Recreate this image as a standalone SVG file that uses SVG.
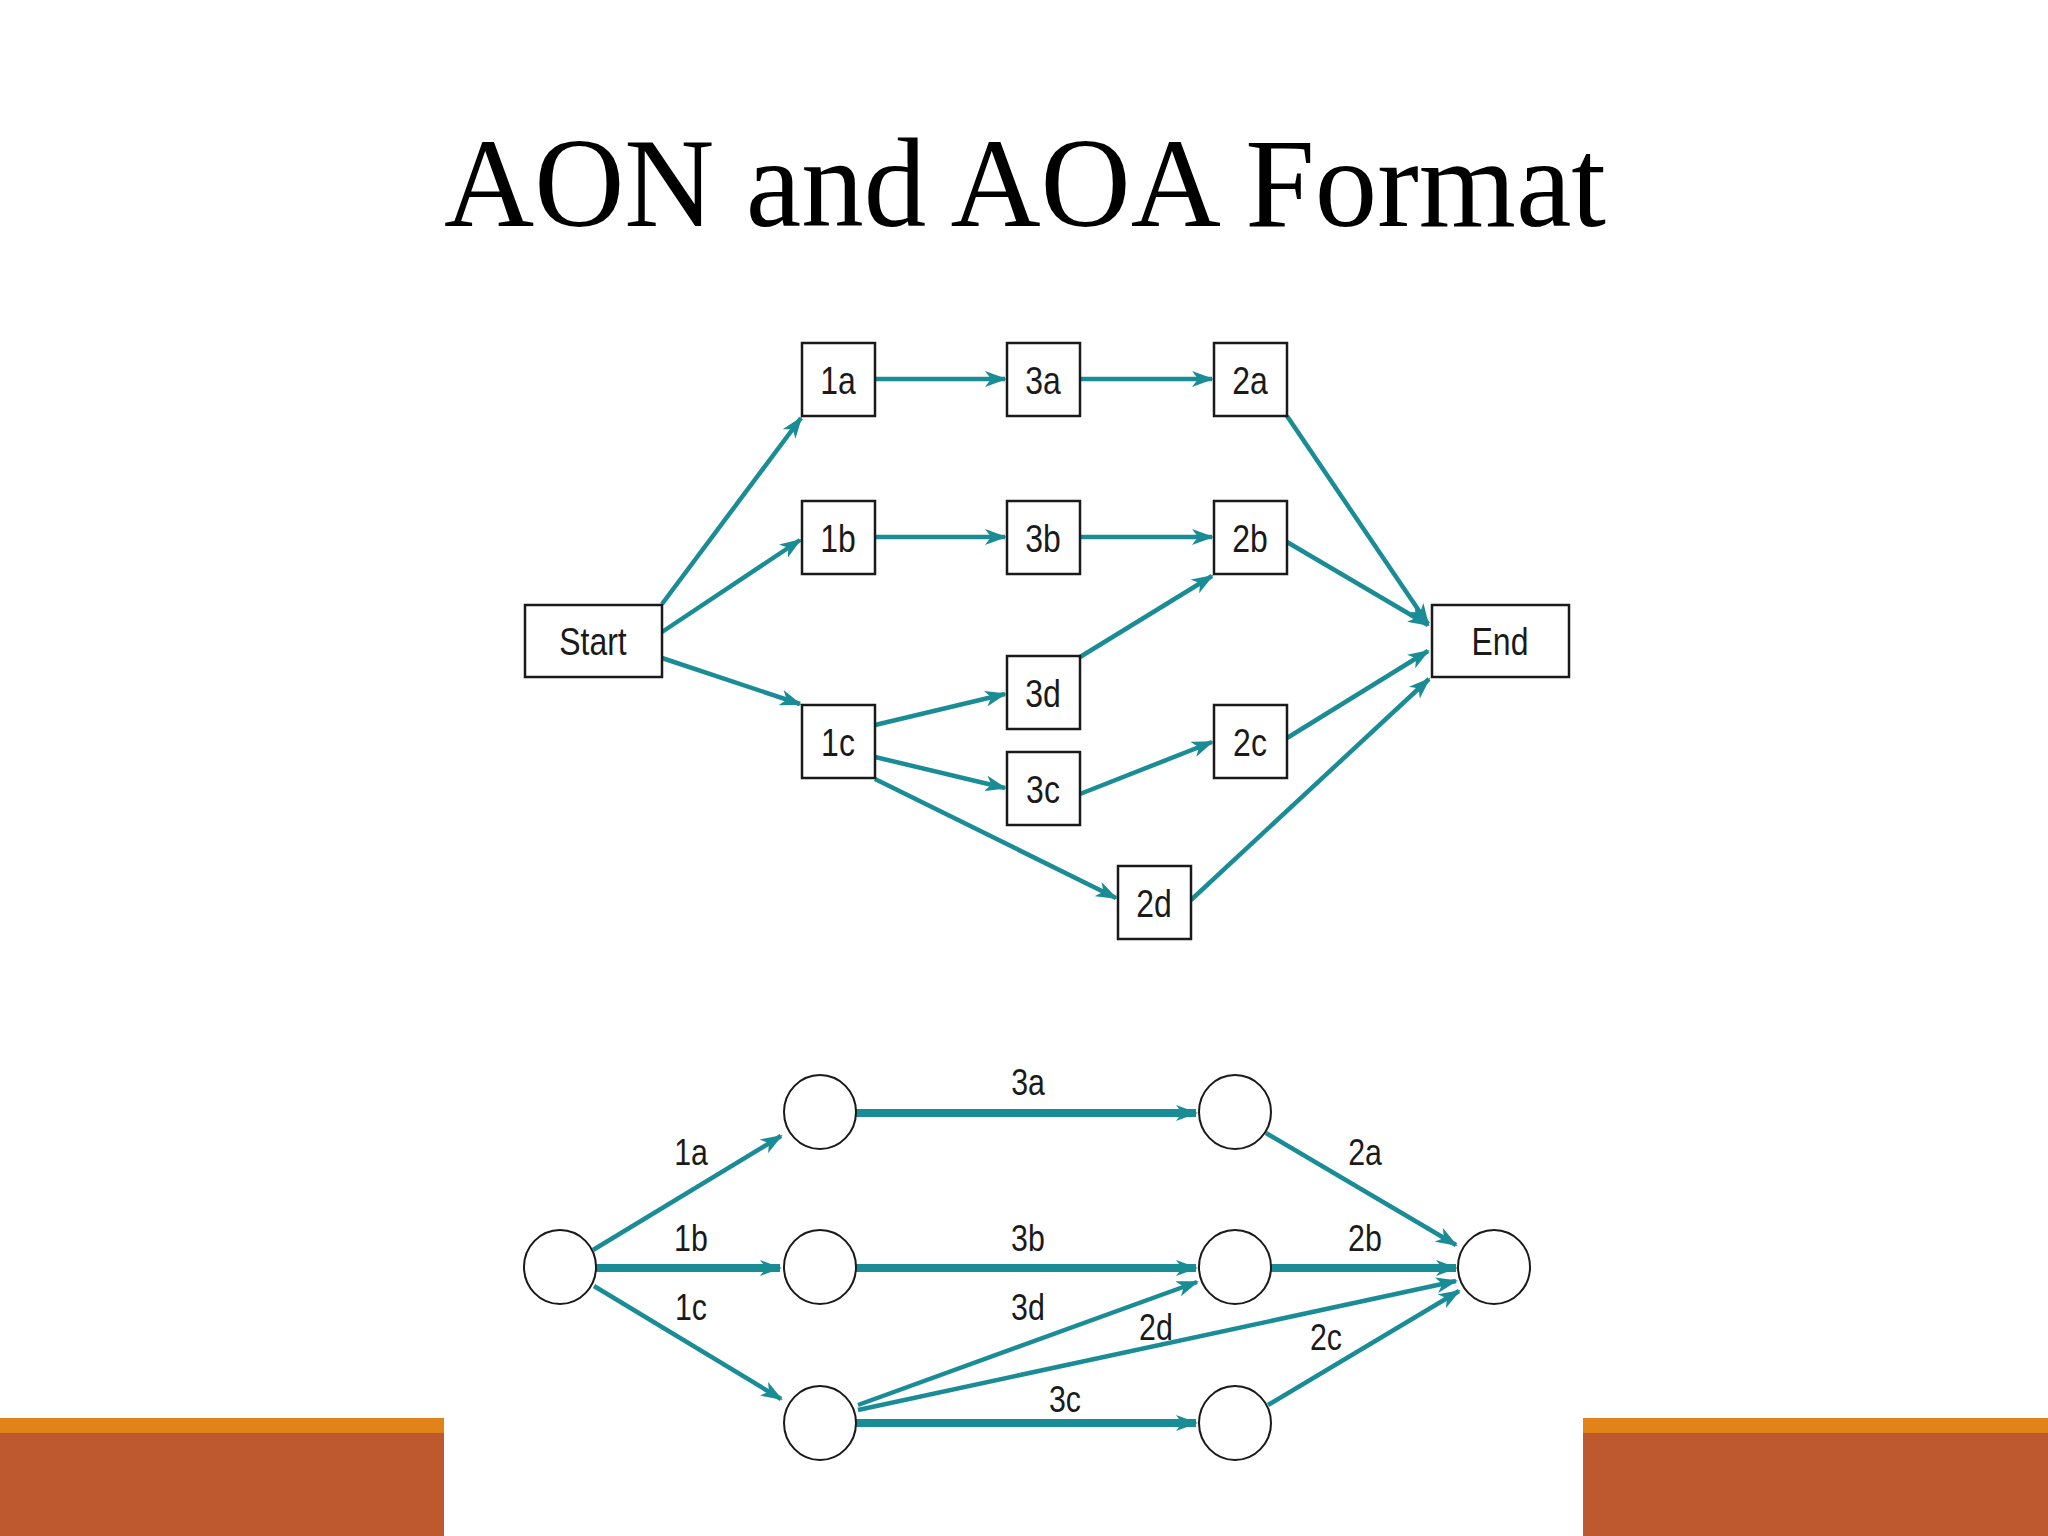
<svg xmlns="http://www.w3.org/2000/svg" width="2048" height="1536" viewBox="0 0 2048 1536">
<defs>
<style>
.box{fill:#fff;stroke:#1a1a1a;stroke-width:2.5}
.ev{fill:#fff;stroke:#1a1a1a;stroke-width:2}
.lb{font-family:"Liberation Sans",Arial,sans-serif;font-size:39px;fill:#1a1a1a;text-anchor:middle;transform-box:fill-box;transform-origin:center;transform:scaleX(0.82)}
.al{font-family:"Liberation Sans",Arial,sans-serif;font-size:37px;fill:#1a1a1a;text-anchor:middle;transform-box:fill-box;transform-origin:center;transform:scaleX(0.82)}
.c{fill:none;stroke:#1A8C96;stroke-width:4.5;marker-end:url(#ah)}
.k{fill:none;stroke:#1A8C96;stroke-width:8;marker-end:url(#ah)}
</style>
<marker id="ah" viewBox="0 0 22 16" refX="20" refY="8" markerWidth="22" markerHeight="16" markerUnits="userSpaceOnUse" orient="auto">
<path d="M0,0 L22,8 L0,16 L6,8 Z" fill="#1A8C96"/>
</marker>
</defs>
<rect width="2048" height="1536" fill="#fff"/>
<text x="1025" y="226" font-family="'Liberation Serif','Times New Roman',serif" font-size="128" text-anchor="middle" textLength="1162" lengthAdjust="spacingAndGlyphs" fill="#000">AON and AOA Format</text>

<g id="connectors">
<path class="c" d="M662,604 L801,418"/>
<path class="c" d="M662,632 L800,540"/>
<path class="c" d="M662,658 L800,704"/>
<path class="c" d="M876,379 L1005,379"/>
<path class="c" d="M1081,379 L1212,379"/>
<path class="c" d="M876,537 L1005,537"/>
<path class="c" d="M1081,537 L1212,537"/>
<path class="c" d="M875,725 L1005,694"/>
<path class="c" d="M875,757 L1005,788"/>
<path class="c" d="M875,779 L1116,898"/>
<path class="c" d="M1080,657 L1212,576"/>
<path class="c" d="M1080,794 L1212,742"/>
<path class="c" d="M1287,416 L1428,624"/>
<path class="c" d="M1287,542 L1428,625"/>
<path class="c" d="M1287,738 L1428,651"/>
<path class="c" d="M1191,900 L1429,679"/>

<path class="c" d="M593,1250 L781,1136"/>
<path class="k" d="M596,1268 L780,1268"/>
<path class="c" d="M594,1286 L781,1399"/>
<path class="k" d="M856,1113 L1196,1113"/>
<path class="k" d="M856,1268 L1196,1268"/>
<path class="k" d="M856,1423 L1196,1423"/>
<path class="c" d="M1266,1133 L1456,1245"/>
<path class="k" d="M1271,1268 L1456,1268"/>
<path class="c" d="M858,1405 L1197,1282"/>
<path class="c" d="M858,1410 L1456,1281"/>
<path class="c" d="M1268,1405 L1459,1291"/>
</g>

<g id="start"><rect class="box" x="525" y="605" width="137" height="72"/><text class="lb" x="593" y="655">Start</text></g>
<g id="n1a"><rect class="box" x="802" y="343" width="73" height="73"/><text class="lb" x="838" y="394">1a</text></g>
<g id="n3a"><rect class="box" x="1007" y="343" width="73" height="73"/><text class="lb" x="1043" y="394">3a</text></g>
<g id="n2a"><rect class="box" x="1214" y="343" width="73" height="73"/><text class="lb" x="1250" y="394">2a</text></g>
<g id="n1b"><rect class="box" x="802" y="501" width="73" height="73"/><text class="lb" x="838" y="552">1b</text></g>
<g id="n3b"><rect class="box" x="1007" y="501" width="73" height="73"/><text class="lb" x="1043" y="552">3b</text></g>
<g id="n2b"><rect class="box" x="1214" y="501" width="73" height="73"/><text class="lb" x="1250" y="552">2b</text></g>
<g id="n3d"><rect class="box" x="1007" y="656" width="73" height="73"/><text class="lb" x="1043" y="707">3d</text></g>
<g id="n1c"><rect class="box" x="802" y="705" width="73" height="73"/><text class="lb" x="838" y="756">1c</text></g>
<g id="n2c"><rect class="box" x="1214" y="705" width="73" height="73"/><text class="lb" x="1250" y="756">2c</text></g>
<g id="n3c"><rect class="box" x="1007" y="752" width="73" height="73"/><text class="lb" x="1043" y="803">3c</text></g>
<g id="n2d"><rect class="box" x="1118" y="866" width="73" height="73"/><text class="lb" x="1154" y="917">2d</text></g>
<g id="end"><rect class="box" x="1432" y="605" width="137" height="72"/><text class="lb" x="1500" y="655">End</text></g>

<g id="e0"><ellipse class="ev" cx="560" cy="1267" rx="36" ry="37"/></g>
<g id="e1"><ellipse class="ev" cx="820" cy="1112" rx="36" ry="37"/></g>
<g id="e2"><ellipse class="ev" cx="820" cy="1267" rx="36" ry="37"/></g>
<g id="e3"><ellipse class="ev" cx="820" cy="1423" rx="36" ry="37"/></g>
<g id="e4"><ellipse class="ev" cx="1235" cy="1112" rx="36" ry="37"/></g>
<g id="e5"><ellipse class="ev" cx="1235" cy="1267" rx="36" ry="37"/></g>
<g id="e6"><ellipse class="ev" cx="1235" cy="1423" rx="36" ry="37"/></g>
<g id="e7"><ellipse class="ev" cx="1494" cy="1267" rx="36" ry="37"/></g>

<g id="labels">
<text class="al" x="1028" y="1095">3a</text>
<text class="al" x="691" y="1165">1a</text>
<text class="al" x="1365" y="1165">2a</text>
<text class="al" x="691" y="1251">1b</text>
<text class="al" x="1028" y="1251">3b</text>
<text class="al" x="1365" y="1251">2b</text>
<text class="al" x="691" y="1320">1c</text>
<text class="al" x="1028" y="1320">3d</text>
<text class="al" x="1156" y="1340">2d</text>
<text class="al" x="1326" y="1350">2c</text>
<text class="al" x="1065" y="1412">3c</text>
</g>

<g id="bars">
<rect x="0" y="1418" width="444" height="15" fill="#E2831A"/>
<rect x="0" y="1433" width="444" height="103" fill="#BD582F"/>
<rect x="1583" y="1418" width="465" height="15" fill="#E2831A"/>
<rect x="1583" y="1433" width="465" height="103" fill="#BD582F"/>
</g>
</svg>
